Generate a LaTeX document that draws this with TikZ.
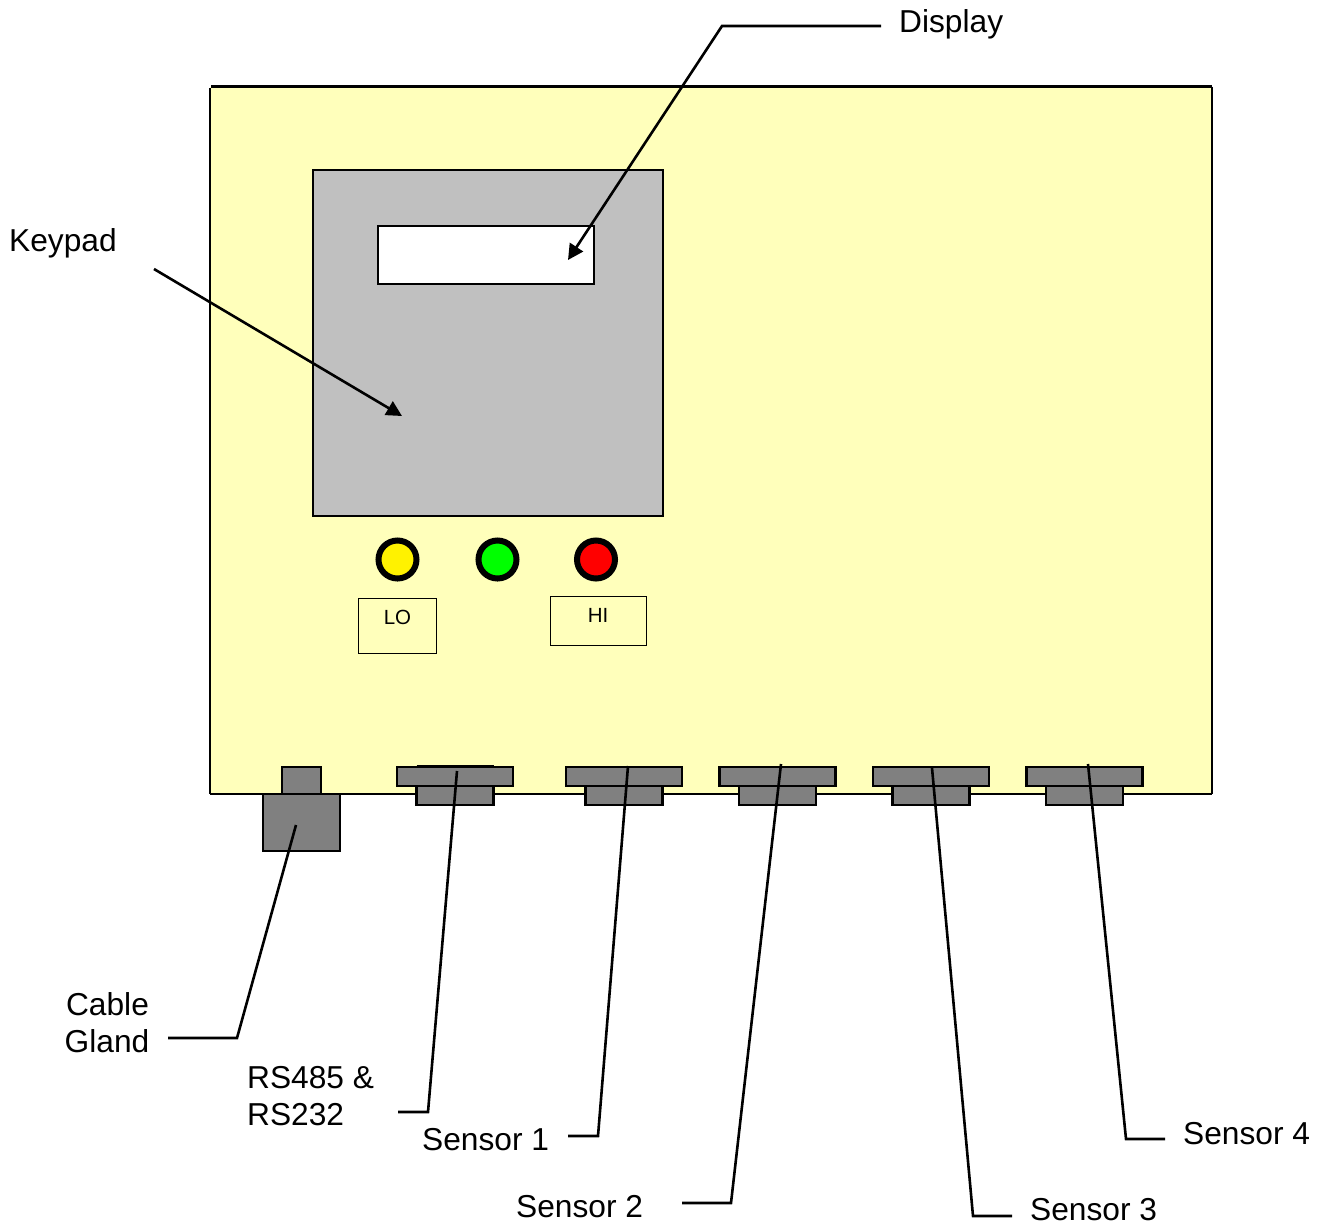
\documentclass[tikz,border=0pt]{standalone}
\usepackage{fontspec}
\setmainfont{Liberation Sans}
\usetikzlibrary{arrows.meta}
\definecolor{boxy}{HTML}{FFFFBB}
\definecolor{padg}{HTML}{C0C0C0}
\definecolor{glandg}{HTML}{808080}
\tikzset{x=1pt,y=-1pt,
 outline/.style={draw=black,line width=2.8pt},
 gl/.style={draw=black,line width=2.1pt,fill=glandg},
 lbl/.style={font=\fontsize{31.7}{36}\selectfont,inner sep=0pt,anchor=base west,align=left},
 lead/.style={draw=black,line width=2.6pt},
 arrowlead/.style={lead,-{Triangle[length=15.5pt,width=15.5pt]}},
 lamp/.style={draw=black,line width=6pt,circle,minimum size=38pt,inner sep=0pt},
 tag/.style={draw=black,line width=.8pt,fill=boxy},
 tagtxt/.style={font=\fontsize{20.5}{24}\selectfont,inner sep=0pt}
}
\newcommand{\gland}[1]{%
 \draw[gl] (#1-58,767) rectangle (#1+58,786);
 \draw[gl] (#1-38.5,786) rectangle (#1+38.5,805);
}
\begin{document}
\begin{tikzpicture}
\useasboundingbox (0,0) rectangle (1324,1229);
\fill[boxy] (210,87) rectangle (1212,794);
\coordinate (tl) at (211,86.5); \coordinate (tr) at (1212,86.5);
\coordinate (bl) at (210,794); \coordinate (br) at (1212,794);
\coordinate (ll) at (210,88);
\draw[outline] (tl) -- (tr);
\draw[outline] (ll) -- (bl);
\draw[outline] (bl) -- (br);
\draw[outline] (tr) -- (br);
\draw[outline,fill=padg] (313,170) rectangle (663,516);
\draw[outline,fill=white] (378,226) rectangle (594,284);
\node[lamp,fill=yellow] (l1) at (397.5,559.5) {};
\node[lamp,fill=green] (l2) at (497.5,559.5) {};
\node[lamp,fill=red] (l3) at (596,559.5) {};
\draw[tag] (358.5,598.5) rectangle (436.5,653.5);
\node[tagtxt] (lo) at (397.5,617) {LO};
\draw[tag] (550.5,596.5) rectangle (646.5,645.5);
\node[tagtxt] (hi) at (598,615) {HI};
\draw[gl] (282,767) rectangle (321,794);
\draw[gl] (263,794) rectangle (340,851);
\draw[gl] (416.5,766) -- (494,766);
\gland{455}
\gland{624}
\gland{777.5}
\gland{931}
\gland{1084.5}
\node[lbl] (display) at (899,32) {Display};
\node[lbl] (keypad) at (9,251.5) {Keypad};
\node[lbl,anchor=base] (cable) at (107.5,1015.5) {Cable};
\node[lbl,anchor=base] (glandt) at (107,1052.5) {Gland};
\node[lbl] (rs1) at (247,1088) {RS485 \&};
\node[lbl] (rs2) at (247,1125) {RS232};
\node[lbl] (s1) at (422,1150) {Sensor 1};
\node[lbl] (s2) at (516,1217) {Sensor 2};
\node[lbl] (s3) at (1030,1220.5) {Sensor 3};
\node[lbl] (s4) at (1183,1144.5) {Sensor 4};
\coordinate (a1) at (881,26); \coordinate (a2) at (722,26); \coordinate (a3) at (568,260);
\draw[arrowlead] (a1) -- (a2) -- (a3);
\coordinate (k1) at (154,269); \coordinate (k2) at (402,416);
\draw[arrowlead] (k1) -- (k2);
\coordinate (c1) at (168,1038); \coordinate (c2) at (237,1038); \coordinate (c3) at (296,825);
\draw[lead] (c1) -- (c2) -- (c3);
\coordinate (d1) at (398,1112); \coordinate (d2) at (428,1112); \coordinate (d3) at (457,771);
\draw[lead] (d1) -- (d2) -- (d3);
\coordinate (e1) at (568,1136); \coordinate (e2) at (598,1136); \coordinate (e3) at (628,766);
\draw[lead] (e1) -- (e2) -- (e3);
\coordinate (f1) at (682,1203); \coordinate (f2) at (731,1203); \coordinate (f3) at (781,764);
\draw[lead] (f1) -- (f2) -- (f3);
\coordinate (h1) at (1012,1216); \coordinate (h2) at (973,1216); \coordinate (h3) at (932,768);
\draw[lead] (h1) -- (h2) -- (h3);
\coordinate (i1) at (1165,1139); \coordinate (i2) at (1126,1139); \coordinate (i3) at (1088,764);
\draw[lead] (i1) -- (i2) -- (i3);
\end{tikzpicture}
\end{document}
